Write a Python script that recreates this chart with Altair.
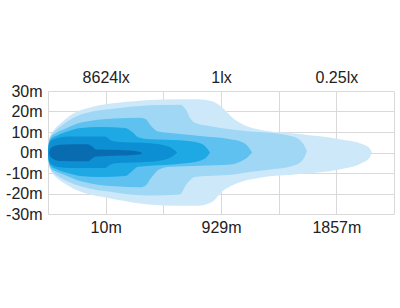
import altair as alt
import pandas as pd

# ---- data (x in grid-column units 0..6, y in metres) ----
level_names = ["0.25lx", "1lx", "3lx", "10lx", "100lx", "8624lx"]
level_colors = ["#cde9f9", "#a0d7f5", "#5ec1ef", "#1ea8e4", "#0c8fd3", "#0a6cb0"]

l1_x = [0, 0.006, 0.02, 0.05, 0.10, 0.17, 0.31, 0.47, 0.73, 1.0, 1.5, 2.0, 2.6, 2.85, 3.02, 3.2, 3.38, 3.62, 4.37, 5.06, 5.46, 5.58, 5.62]
l1_top = [0, 3.5, 6.5, 9, 11, 13, 16.5, 19.5, 22, 23.5, 25, 25.8, 26, 25, 22, 17, 13.7, 11.5, 9, 6.5, 4, 2, 0]
l1_bot = [0, -3.5, -6.5, -9, -11, -12.8, -15.5, -18, -20.5, -22, -24.5, -25.8, -26, -24, -19, -16, -14, -12.5, -10.5, -8.3, -4.9, -2.3, 0]

l2_x = [0, 0.006, 0.02, 0.05, 0.10, 0.22, 0.57, 1.16, 1.77, 2.29, 2.39, 2.46, 2.55, 2.77, 3.12, 3.50, 3.80, 4.25, 4.42, 4.49]
l2_top = [0, 3, 6, 8.3, 10, 12.8, 18.5, 21.5, 23, 23.3, 21, 17, 14.5, 13, 11.5, 10.3, 9.8, 7.8, 4.5, 0.5]
l2_bot = [0, -3, -6, -8.3, -10, -12.3, -16.5, -19.5, -21, -20.5, -16, -13.5, -12, -11.5, -11, -9.5, -8.5, -6.5, -3.5, 0.5]

l3_x = [0, 0.006, 0.02, 0.05, 0.14, 0.28, 0.57, 1.16, 1.6, 1.7, 1.77, 1.86, 1.91, 2.12, 2.64, 3.16, 3.33, 3.45, 3.54]
l3_top = [0, 2.8, 5.5, 7.5, 9.5, 11.3, 14.6, 16.6, 17, 16.2, 13.5, 11, 10.2, 9.5, 8, 6.5, 5.5, 3.5, 0]
l3_bot = [0, -2.8, -5.5, -7.5, -9.3, -10.8, -14, -16.5, -17, -16, -13, -10, -8.5, -7, -6.5, -5.9, -4.5, -2.5, 0]

l4_x = [0, 0.006, 0.02, 0.05, 0.16, 0.31, 0.57, 0.90, 1.34, 1.46, 1.56, 1.77, 2.29, 2.64, 2.76, 2.81]
l4_top = [0, 2.5, 5, 6.5, 8.3, 10, 12, 12.5, 12, 10, 7.5, 6.5, 6, 4.5, 2, 0]
l4_bot = [0, -2.5, -5, -6.5, -8.3, -9.8, -11.5, -12, -11.5, -9, -7, -6.5, -5.5, -4, -2, 0]

l5_x = [0, 0.006, 0.02, 0.05, 0.14, 0.35, 0.99, 1.08, 1.16, 1.77, 2.08, 2.24]
l5_top = [0, 2.2, 4.2, 5.5, 6.8, 7.8, 7.8, 6, 5.4, 4.5, 3, 0]
l5_bot = [0, -2.2, -4.2, -5.5, -6.8, -7.5, -7.5, -6, -5.2, -4.5, -3, 0]

l6_x = [0.02, 0.04, 0.10, 0.21, 0.69, 0.76, 0.83, 1.25, 1.60, 1.63]
l6_top = [0, 1.8, 3, 3.8, 4, 3, 1.5, 1.2, 0.3, -0.5]
l6_bot = [0, -2, -3.3, -4.2, -4.3, -3, -2, -1.5, -0.8, -0.5]

grid_cols = [0, 1, 2, 3, 4, 5, 6]
label_cols = [1, 3, 5]
bottom_labels = ["10m", "929m", "1857m"]
top_labels = ["8624lx", "1lx", "0.25lx"]
y_ticks = [-30, -20, -10, 0, 10, 20, 30]

layers_data = [
    (l1_x, l1_top, l1_bot),
    (l2_x, l2_top, l2_bot),
    (l3_x, l3_top, l3_bot),
    (l4_x, l4_top, l4_bot),
    (l5_x, l5_top, l5_bot),
    (l6_x, l6_top, l6_bot),
]

FONT = "Liberation Sans"
TXT = "#222222"
GRID = "#d9d9d9"
FS = 16


def label_expr(labels):
    parts = [f"datum.value == {p} ? '{t}'" for p, t in zip(label_cols, labels)]
    return " : ".join(parts) + " : ''"


x_scale = alt.Scale(domain=[0, 6], nice=False, zero=False)
y_scale = alt.Scale(domain=[-30, 30], nice=False)

bottom_axis = alt.Axis(values=grid_cols, labelExpr=label_expr(bottom_labels), grid=True,
                       gridColor=GRID, ticks=False, domain=False, title=None,
                       labelFont=FONT, labelFontSize=FS, labelColor=TXT, labelPadding=5,
                       labelFlush=False)
y_axis = alt.Axis(values=y_ticks, labelExpr="datum.value + 'm'", grid=True, gridColor=GRID,
                  ticks=False, domain=False, title=None, labelFont=FONT, labelFontSize=FS,
                  labelColor=TXT, labelPadding=6)
top_axis = alt.Axis(values=label_cols, labelExpr=label_expr(top_labels), orient="top",
                    grid=False, ticks=False, domain=False, title=None, labelFont=FONT,
                    labelFontSize=FS, labelColor=TXT, labelPadding=6, labelFlush=False)

area_layers = []
for (xs, tops, bots), name, col in zip(layers_data, level_names, level_colors):
    df = pd.DataFrame({"x": xs, "top": tops, "bot": bots, "level": name})
    area_layers.append(
        alt.Chart(df).mark_area(interpolate="monotone", color=col, opacity=1).encode(
            x=alt.X("x:Q", scale=x_scale, axis=bottom_axis),
            y=alt.Y("top:Q", scale=y_scale, axis=y_axis),
            y2="bot:Q",
        )
    )

areas = alt.layer(*area_layers)

top_df = pd.DataFrame({"x": label_cols})
top_layer = alt.Chart(top_df).mark_point(opacity=0).encode(
    x=alt.X("x:Q", scale=x_scale, axis=top_axis)
)

chart = alt.layer(areas, top_layer).resolve_scale(x="independent").properties(
    width=346,
    height=123,
    padding={"left": 48, "top": 91, "right": 6, "bottom": 94},
    autosize=alt.AutoSizeParams(type="none"),
    background="white",
).configure_view(stroke=None)

chart.save("out.html", embed_options={"renderer": "svg", "actions": False})
